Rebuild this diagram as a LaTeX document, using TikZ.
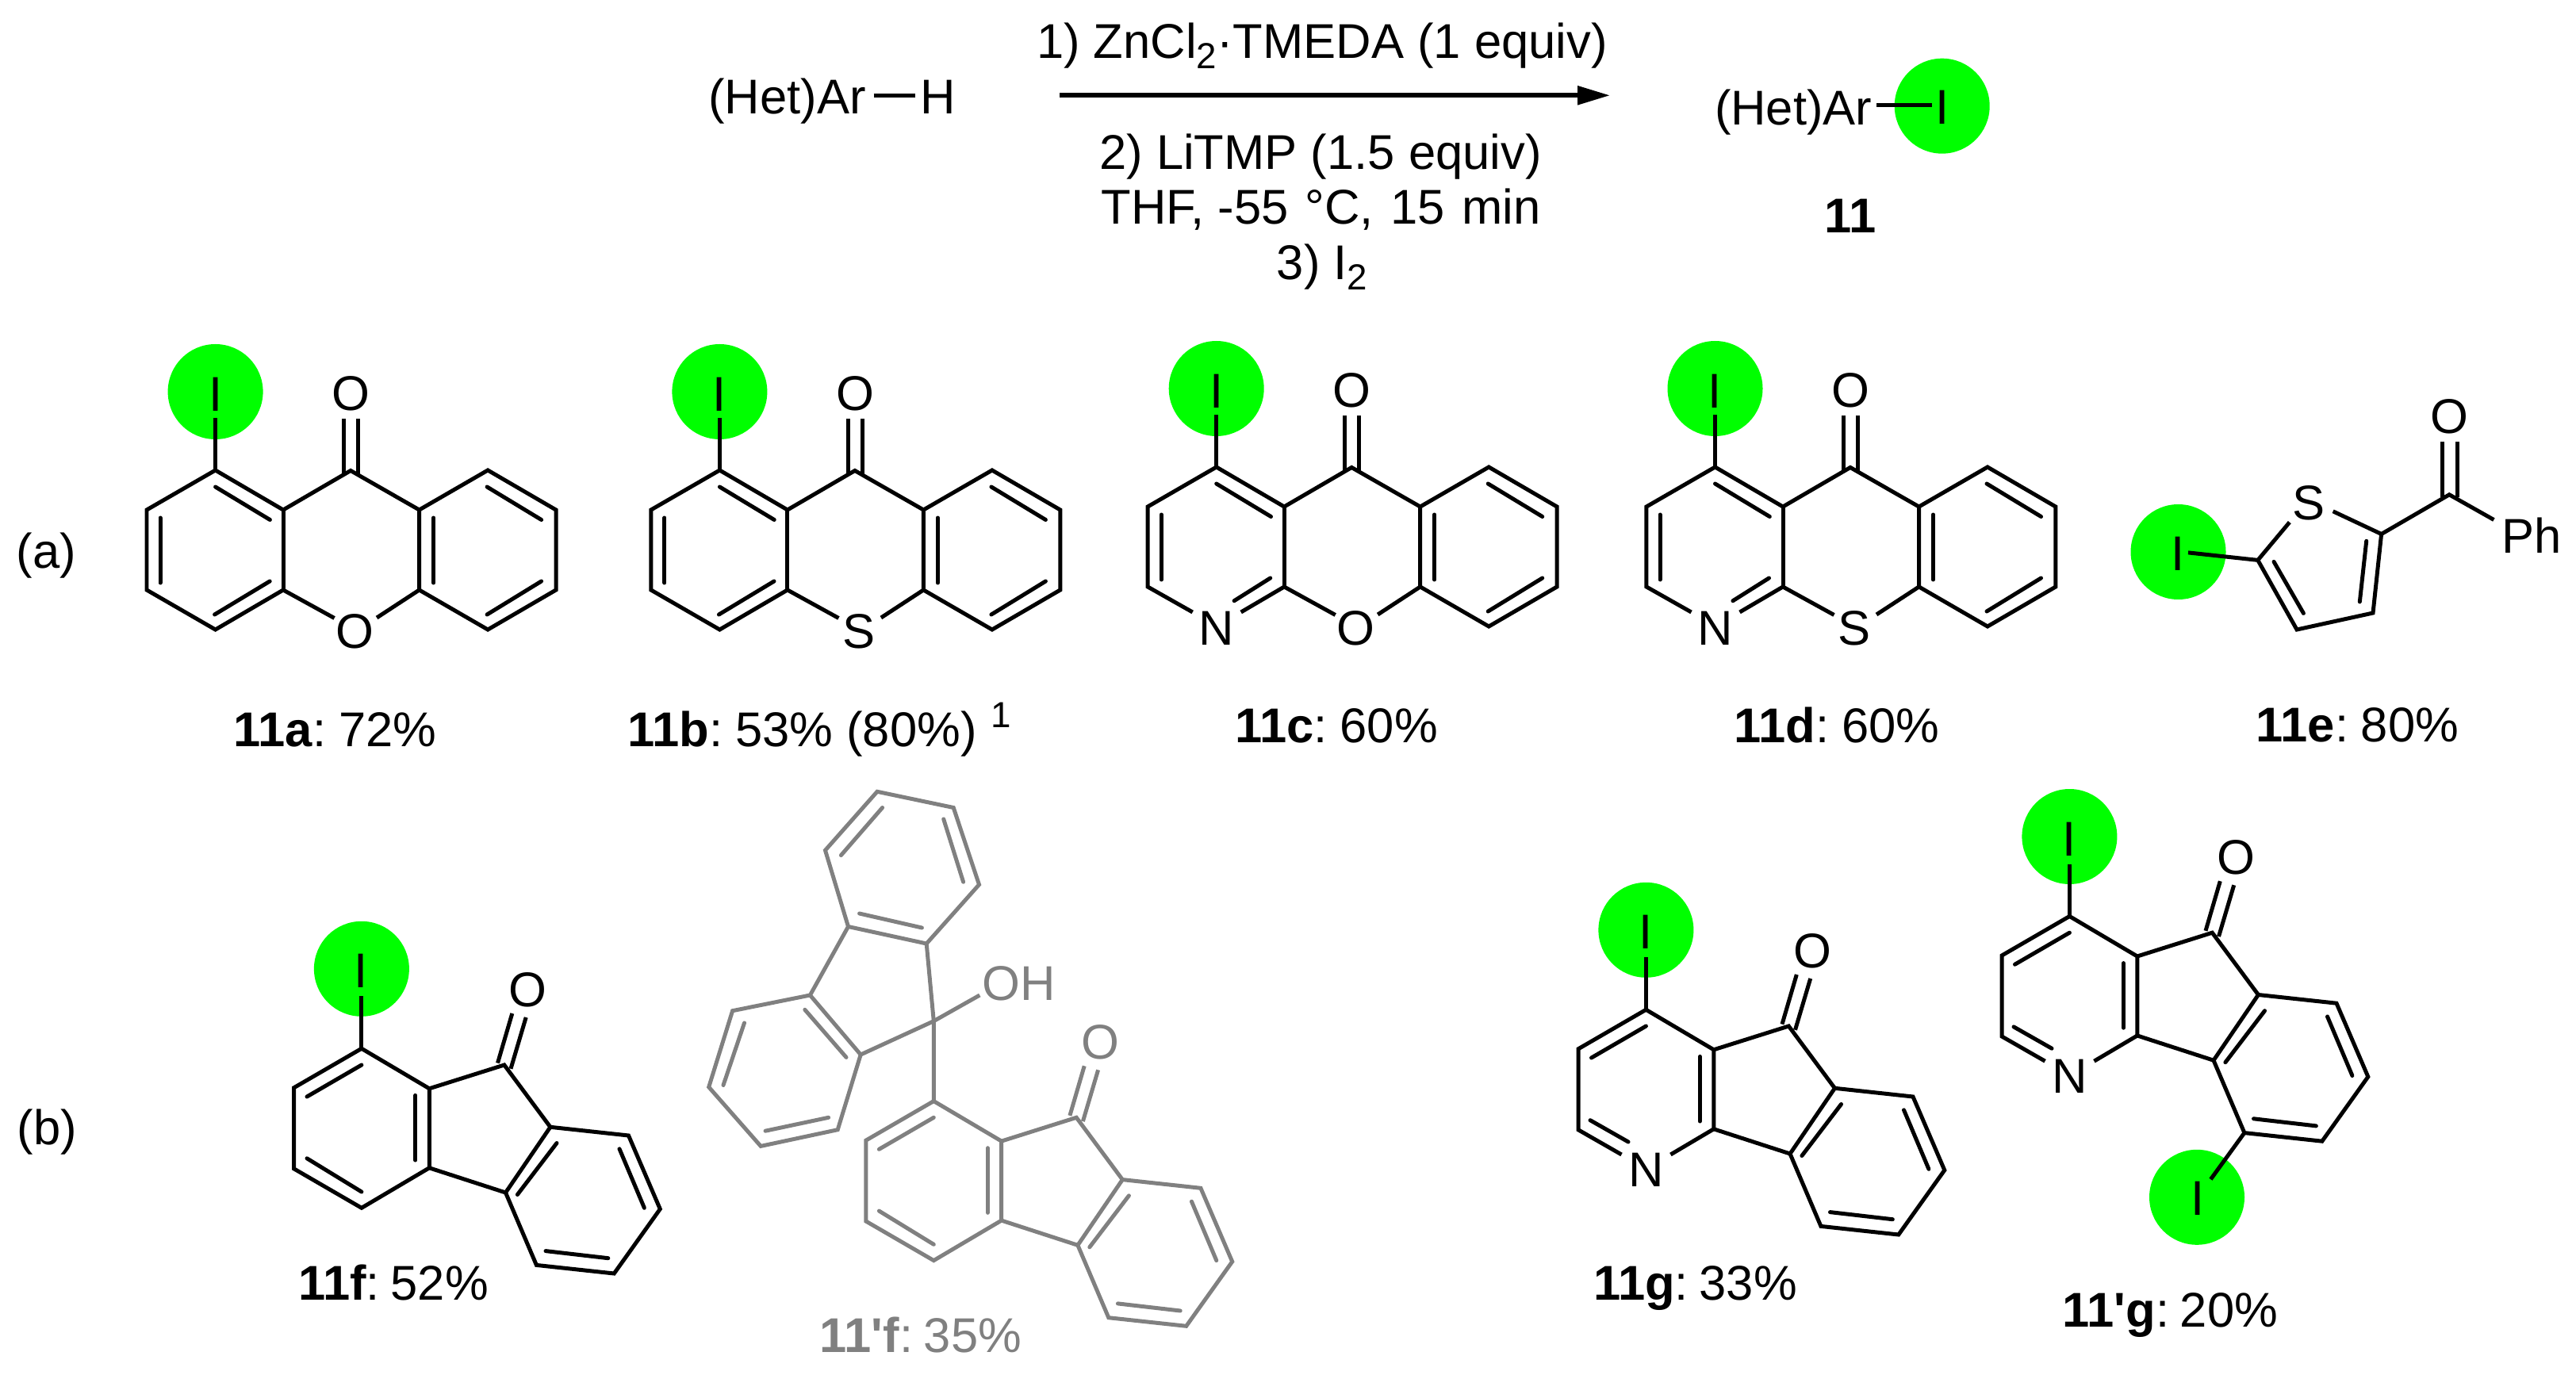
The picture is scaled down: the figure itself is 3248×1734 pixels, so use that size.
\documentclass[tikz,border=0pt]{standalone}
\usepackage{fontspec}
\usetikzlibrary{arrows.meta}
\newfontfamily\chemfont{Liberation Sans}
\definecolor{hilite}{HTML}{00FF00}
\definecolor{minor}{HTML}{808080}
\newcommand{\sbt}[1]{\raisebox{-3.5pt}{\fontsize{13}{15}\selectfont #1}}
\newcommand{\tgt}{\hspace{-2pt}}
\newcommand{\tgu}{\hspace{-2.6pt}}
\tikzset{
  bondline/.style={line width=1.42pt,line join=miter,line cap=butt},
  innerbond/.style={line width=1.42pt,line cap=round},
  atom/.style={inner sep=0pt,outer sep=0pt,font=\chemfont\fontsize{17.5}{21}\selectfont},
  lbl/.style={atom,anchor=base west},
  lblc/.style={atom,anchor=base},
  spot/.style={fill=hilite,draw=none},
}
% tricyclic ketone, origin at the carbon that bears iodine
\newcommand{\triCommon}[3]{% prefix, x, y
  \fill[spot] (0,-99) circle (60);
  \draw[bondline] (0,0) -- (0,-66);
  \node[atom] (#1I) at (0,-96) {I};
  \node[atom] (#1O) at (171,-97) {O};
  \draw[bondline] (85.5,50) -- (170.5,0.5) -- (257,50);
  \draw[bondline] (162,5) -- (162,-64.5);
  \draw[bondline] (179.6,5) -- (179.6,-64.5);
  \draw[bondline] (85.5,50) -- (85.5,151);
  \draw[bondline] (257,50) -- (343.5,0) -- (429.4,50) -- (429.4,151) -- (343.5,201) -- (257,151) -- cycle;
  \draw[bondline] (85.5,151) -- (150,186.5);
  \draw[bondline] (257,151) -- (203.5,186);
  \draw[innerbond] (275,60) -- (275,142);
  \draw[innerbond] (342.5,21) -- (411,62.5);
  \draw[innerbond] (342.5,182) -- (411,140);
  \draw[innerbond] (0,21) -- (68.8,62.5);
  \draw[innerbond] (-69.5,60) -- (-69.5,142);
}
\newcommand{\triC}[4]{% prefix, x, y, hetero
  \begin{scope}[shift={(#2,#3)}]
  \triCommon{#1}{#2}{#3}
  \node[atom] (#1X) at (175.5,203) {#4};
  \draw[bondline] (85.5,50) -- (0,0) -- (-86.6,50) -- (-86.6,151) -- (0,201) -- (85.5,151);
  \draw[innerbond] (-1,182) -- (68.6,140);
  \end{scope}
}
\newcommand{\triN}[4]{%
  \begin{scope}[shift={(#2,#3)}]
  \triCommon{#1}{#2}{#3}
  \node[atom] (#1X) at (175.5,203) {#4};
  \node[atom] (#1N) at (0,203) {N};
  \draw[bondline] (85.5,50) -- (0,0) -- (-86.6,50) -- (-86.6,151) -- (-30,183);
  \draw[bondline] (85.5,151) -- (31,183);
  \draw[innerbond] (22.4,168.7) -- (68,140);
  \end{scope}
}
% benzo-fused part of a fluorenone, written in the frame of 11f
\newcommand{\fluCore}{%
  \draw[bondline] (455.9,1322.3) -- (541.3,1372.8) -- (541.3,1472.8);
  \draw[bondline] (541.3,1372.8) -- (635.8,1343) -- (693.9,1421.3) -- (637.5,1504) -- (541.3,1472.8);
  \draw[bondline] (693.9,1421.3) -- (792.5,1432) -- (832.3,1524.7) -- (774.3,1606) -- (676.4,1595.4) -- (637.5,1504);
  \draw[innerbond] (523.9,1381.4) -- (523.9,1463);
  \draw[innerbond] (702,1441.5) -- (652.4,1506.5);
  \draw[innerbond] (781,1448.8) -- (812.4,1523.3);
  \draw[innerbond] (688,1577.6) -- (766.8,1586.7);
  \draw[bondline] (627.5,1340.6) -- (645.8,1278);
  \draw[bondline] (644,1347.8) -- (663.2,1283);
}
\newcommand{\fluCarboRing}{%
  \draw[bondline] (455.9,1322.3) -- (370.5,1371.8) -- (370.5,1473.8) -- (455.9,1523.3) -- (541.3,1472.8);
  \draw[innerbond] (455.9,1343) -- (387,1383);
  \draw[innerbond] (387,1460.8) -- (455.9,1503);
}
\newcommand{\fluPyrRing}[1]{%
  \node[atom] (#1N) at (455.9,1524.2) {N};
  \draw[bondline] (455.9,1322.3) -- (370.5,1371.8) -- (370.5,1473.8) -- (425,1505);
  \draw[bondline] (541.3,1472.8) -- (486.9,1505);
  \draw[innerbond] (455.9,1343) -- (387,1383);
  \draw[innerbond] (385.5,1461.7) -- (433.5,1489);
}
\newcommand{\topI}[1]{%
  \fill[spot] (455.9,1221.8) circle (60);
  \draw[bondline] (455.9,1322.3) -- (455.9,1256.4);
  \node[atom] (#1I) at (455.4,1224.7) {I};
}
\begin{document}
\begin{tikzpicture}[x=0.01cm,y=-0.01cm]
\useasboundingbox (0,0) rectangle (3248,1734);
% --- scheme
\node[lbl] (sm) at (893.4,144) {(Het)Ar};
\node[lbl] (smH) at (1160,144) {H};
\coordinate (smb1) at (1101.6,120.7);
\coordinate (smb2) at (1153.7,120.7);
\draw[bondline] (smb1) -- (smb2);
\coordinate (arrS) at (1336,120.3);
\coordinate (arrE) at (2030,120.3);
\draw[line width=1.6pt,-{Triangle[length=0.41cm,width=0.23cm]}] (arrS) -- (arrE);
\node[lblc] (r1) at (1667,74) {1) ZnCl\sbt{2}·TMEDA (1 equiv)};
\node[lblc] (r2) at (1665,214) {2) LiTMP (1.5 equiv)};
\node[lblc] (r3) at (1665.5,282.7) {THF, -55\hspace{1.2pt} °C,\hspace{1.2pt} 15\hspace{1.2pt} min};
\node[lblc] (r4) at (1667,352.7) {3) I\sbt{2}};
\fill[spot] (2448.7,133.7) circle (60);
\node[lbl] (pr) at (2162,157.3) {(Het)Ar};
\node[atom] (prI) at (2448.7,135) {I};
\coordinate (prb1) at (2366,132.3);
\coordinate (prb2) at (2435.7,132.3);
\draw[bondline] (prb1) -- (prb2);
\node[lblc] (pr11) at (2333,293.3) {\textbf{11}};
% --- row a
\node[lbl] (rowa) at (21,716.8) {(a)};
\triC{a}{271.6}{593}{O}
\triC{b}{907.4}{593}{S}
\triN{c}{1533.7}{589}{O}
\triN{d}{2162.5}{589}{S}
\node[lbl] (la) at (294.7,941.8) {\textbf{11a}: \tgt 72\%};
\node[lbl] (lb) at (791.6,941.8) {\textbf{11b}: \tgt 53\% (80\%)};
\node[lbl,font=\chemfont\fontsize{13}{15}\selectfont] (lbs) at (1249,917.7) {1};
\node[lbl] (lc) at (1557.5,936.8) {\textbf{11c}: \tgt 60\%};
\node[lbl] (ld) at (2186.5,936.8) {\textbf{11d}: \tgt 60\%};
% 11e
\fill[spot] (2746.5,696) circle (60);
\node[atom] (eI) at (2745.8,698.6) {I};
\node[atom] (eS) at (2911.4,634.5) {S};
\node[atom] (eO) at (3088.2,525.4) {O};
\node[atom] (ePh) at (3192,675.6) {Ph};
\draw[bondline] (2759,696.9) -- (2846.8,706.4) -- (2886.8,658.6);
\draw[bondline] (2846.8,706.4) -- (2896,794) -- (2992,773) -- (3002.6,673.5) -- (2941.6,644.8);
\draw[bondline] (3002.6,673.5) -- (3088.2,623.8) -- (3144.4,655.5);
\draw[innerbond] (2867,708.4) -- (2904.4,773.4);
\draw[innerbond] (2983.7,682.3) -- (2975.3,758.9);
\draw[bondline] (3079.8,627) -- (3079.8,557);
\draw[bondline] (3098,627) -- (3098,557);
\node[lbl] (le) at (2844.7,935.7) {\textbf{11e}: \tgt 80\%};
% --- row b
\node[lbl] (rowb) at (21.7,1443.5) {(b)};
% 11f
\topI{f}
\node[atom] (fO) at (665.7,1248.3) {O};
\fluCore
\fluCarboRing
\node[lbl] (lf) at (376.3,1639.6) {\textbf{11f}: \tgu 52\%};
% 11'f
\begin{scope}[color=minor,text=minor]
\begin{scope}[shift={(721.4,66.3)}]
\node[atom,text=minor] (gO) at (665.7,1248.3) {O};
\fluCore
\fluCarboRing
\end{scope}
\node[atom,text=minor] (gOH) at (1284.6,1240) {OH};
\draw[bondline] (1177.3,1388.6) -- (1177.3,1287.7) -- (1168.2,1190);
\draw[bondline] (1177.3,1287.7) -- (1235.3,1255);
\draw[bondline] (1177.3,1287.7) -- (1085.2,1330);
\draw[bondline] (1168.2,1190) -- (1069.5,1168.5) -- (1021.4,1255) -- (1085.2,1330);
\draw[bondline] (1069.5,1168.5) -- (1040.5,1072.3) -- (1106,998.3) -- (1202.2,1018.5) -- (1234.5,1115.6) -- (1168.2,1190);
\draw[bondline] (1021.4,1255) -- (923.6,1274.7) -- (893.7,1370.9) -- (959.2,1445.4) -- (1056.2,1424.7) -- (1085.2,1330);
\draw[innerbond] (1083.6,1152) -- (1162.4,1170);
\draw[innerbond] (1189.7,1032.9) -- (1214.6,1112.2);
\draw[innerbond] (1060.4,1078.6) -- (1112.6,1018.5);
\draw[innerbond] (1014.8,1273.3) -- (1067,1333.4);
\draw[innerbond] (938.5,1290) -- (912,1368.5);
\draw[innerbond] (965,1426.2) -- (1044.6,1409.3);
\node[lbl,text=minor] (lfp) at (1033.8,1705) {\textbf{11'f}: \tgu 35\%};
\end{scope}
% 11g
\begin{scope}[shift={(1619.5,-49)}]
\topI{h}
\node[atom] (hO) at (665.7,1248.3) {O};
\fluCore
\fluPyrRing{h}
\end{scope}
\node[lbl] (lg) at (2009.2,1639.6) {\textbf{11g}: \tgu 33\%};
% 11'g
\begin{scope}[shift={(2153.5,-166.8)}]
\topI{k}
\node[atom] (kO) at (665.7,1248.3) {O};
\fill[spot] (616.5,1676.6) circle (60);
\fluCore
\fluPyrRing{k}
\draw[bondline] (676.4,1595.4) -- (633.9,1654);
\node[atom] (kI2) at (617.5,1677.8) {I};
\end{scope}
\node[lbl] (lgp) at (2600.8,1673.3) {\textbf{11'g}: \tgu 20\%};
\end{tikzpicture}
\end{document}
